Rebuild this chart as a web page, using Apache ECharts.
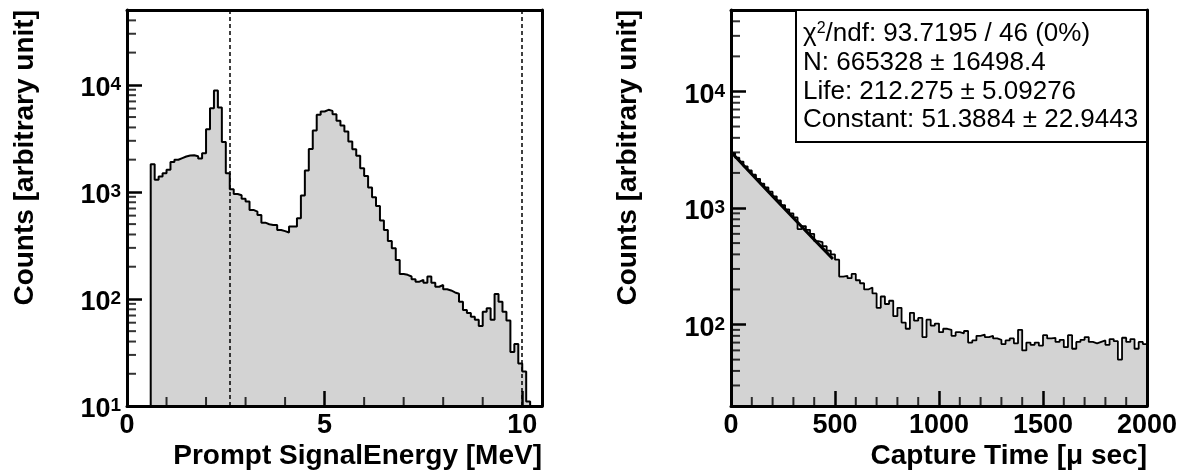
<!DOCTYPE html>
<html>
<head>
<meta charset="utf-8">
<title>Prompt energy / capture time</title>
<script src="https://cdn.jsdelivr.net/npm/echarts@6/dist/echarts.min.js"></script>
<style>
  html, body { margin: 0; padding: 0; background: #fff; }
</style>
</head>
<body>
<div id="main" style="width: 1184px;height:472px;"></div>
<script type="text/javascript">
// prompt energy histogram, 0.1 MeV bins starting at 0.6 MeV
var energyStart = 0.6;
var energyBin = 0.1;
var energyCounts = [
  1816, 1295, 1390, 1495, 1607, 1897, 1995, 2066, 2140, 2190,
  2200, 2150, 2050, 2300, 3850, 6050, 8850, 6150, 2930, 1490,
  1060, 957, 930, 863, 813, 679, 655, 609, 516, 499,
  490, 490, 441, 430, 417, 474, 474, 567, 925, 1580,
  2510, 3740, 5250, 5630, 5840, 5710, 5320, 4630, 4170, 3660,
  2950, 2500, 2170, 1665, 1410, 1097, 892, 739, 540, 441,
  348, 298, 231, 171, 168, 162, 153, 145, 151, 142,
  162, 142, 130, 135, 123, 120, 115, 112, 94, 79,
  74, 68, 64, 56, 76, 82, 64, 111, 94, 76,
  63, 32, 38, 25, 21, 11
];
var cutLines = [2.6, 10.0];

// capture time histogram, 20 us bins from 0 to 2000
var timeBin = 20;
var timeCounts = [
  2950, 2700, 2500, 2280, 2100, 1930, 1780, 1620, 1500, 1380,
  1260, 1160, 1060, 975, 900, 830, 660, 700, 650, 600,
  520, 510, 470, 430, 400, 360, 258, 262, 250, 272,
  240, 226, 200, 208, 185, 139, 174, 150, 160, 118,
  139, 104, 92, 126, 108, 114, 78, 110, 98, 102,
  86, 92, 90, 80, 86, 84, 88, 70, 73, 80,
  82, 78, 80, 76, 74, 68, 73, 76, 69, 90,
  60, 70, 67, 70, 66, 81, 76, 77, 71, 74,
  64, 81, 62, 71, 74, 78, 71, 69, 71, 73,
  67, 75, 72, 50, 77, 71, 75, 62, 71, 68
];
// fitted exponential + constant
var fitT = [0, 100, 200, 300, 400, 490];
var fitV = [3020, 1950, 1265, 820, 535, 365];

var statLines = [
  '{t|\u03c7}{s|2}{t|/ndf: 93.7195 / 46 (0%)}',
  '{t|N: 665328 \u00b1 16498.4}',
  '{t|Life: 212.275 \u00b1 5.09276}',
  '{t|Constant: 51.3884 \u00b1 22.9443}'
];

var FONT = '"Liberation Sans", Arial, Helvetica, sans-serif';

// histogram outlines
var energyData = [[energyStart, 10]];
for (var i = 0; i < energyCounts.length; i++) {
  energyData.push([Math.round((energyStart + i * energyBin) * 100) / 100, energyCounts[i]]);
}
var eEnd = Math.round((energyStart + energyCounts.length * energyBin) * 100) / 100;
energyData.push([eEnd, energyCounts[energyCounts.length - 1]]);
energyData.push([eEnd, 10]);

var timeData = [];
for (var i = 0; i < timeCounts.length; i++) {
  timeData.push([i * timeBin, timeCounts[i]]);
}
timeData.push([timeCounts.length * timeBin, timeCounts[timeCounts.length - 1]]);

var fitData = [];
for (var i = 0; i < fitT.length; i++) fitData.push([fitT[i], fitV[i]]);

// log minor ticks (2..9 x decade) drawn as small marks on the axis
function logMinor(lo, hi) {
  var out = [];
  for (var d = 1; d < 1e6; d *= 10) {
    for (var k = 2; k <= 9; k++) {
      var v = k * d;
      if (v > lo && v < hi) out.push(v);
    }
  }
  return out;
}
function linMinor(step, major, max) {
  var out = [];
  for (var v = step; v < max; v += step) {
    if (Math.abs(v / major - Math.round(v / major)) > 1e-6) out.push(v);
  }
  return out;
}

function yTicks(x0, vals) { return vals.map(function (v) { return [x0, v]; }); }
function xTicks(y0, vals) { return vals.map(function (v) { return [v, y0]; }); }

function tickSeries(xi, yi, data, vertical) {
  return {
    type: 'scatter', xAxisIndex: xi, yAxisIndex: yi, data: data,
    symbol: 'rect', symbolSize: vertical ? [2, 9] : [9, 2],
    symbolOffset: vertical ? [0, -4.5] : [4.5, 0],
    itemStyle: { color: '#000' }, silent: true, clip: false, z: 3
  };
}

function logLabel() {
  return {
    margin: 6,
    padding: [8, 0, 0, 0],
    formatter: function (v) {
      var p = Math.log10(v);
      if (Math.abs(p - Math.round(p)) > 1e-6) return '';
      return '{b|10}{s|' + Math.round(p) + '}';
    },
    rich: {
      b: { fontFamily: FONT, fontWeight: 'bold', fontSize: 27, color: '#000' },
      s: { fontFamily: FONT, fontWeight: 'bold', fontSize: 19, color: '#000', verticalAlign: 'top' }
    }
  };
}

var axisLine = { show: true, onZero: false, lineStyle: { color: '#000', width: 3 } };
var majorTick = { show: true, inside: true, length: 15, lineStyle: { color: '#000', width: 2.5 } };

function frameX(gi) {
  return { type: 'value', gridIndex: gi, position: 'top', min: 0, max: 1, z: 10,
    axisLine: axisLine, axisTick: { show: false }, axisLabel: { show: false }, splitLine: { show: false } };
}
function frameY(gi) {
  return { type: 'value', gridIndex: gi, position: 'right', min: 0, max: 1, z: 10,
    axisLine: axisLine, axisTick: { show: false }, axisLabel: { show: false }, splitLine: { show: false } };
}

var xLabel = { margin: 6, color: '#000', fontFamily: FONT, fontWeight: 'bold', fontSize: 27 };

var myChart = echarts.init(document.getElementById('main'));

var option = {
  animation: false,
  backgroundColor: '#fff',
  grid: [
    { left: 127, top: 10, width: 415, height: 396 },
    { left: 731, top: 10, width: 416, height: 396 }
  ],
  xAxis: [
    { type: 'value', gridIndex: 0, min: 0, max: 10.5, interval: 5, z: 10,
      axisLine: axisLine, axisTick: majorTick, splitLine: { show: false },
      axisLabel: Object.assign({ formatter: function (v) { return v % 5 === 0 ? String(v) : ''; } }, xLabel) },
    { type: 'value', gridIndex: 1, min: 0, max: 2000, interval: 500, z: 10,
      axisLine: axisLine, axisTick: majorTick, splitLine: { show: false },
      axisLabel: Object.assign({ formatter: function (v) { return String(v); } }, xLabel) },
    frameX(0), frameX(1)
  ],
  yAxis: [
    { type: 'log', gridIndex: 0, min: 10, max: 50000, z: 10,
      axisLine: axisLine, axisTick: majorTick, splitLine: { show: false }, axisLabel: logLabel() },
    { type: 'log', gridIndex: 1, min: 20, max: 50000, z: 10,
      axisLine: axisLine, axisTick: majorTick, splitLine: { show: false }, axisLabel: logLabel() },
    frameY(0), frameY(1)
  ],
  series: [
    {
      type: 'line', xAxisIndex: 0, yAxisIndex: 0, data: energyData, step: 'end',
      symbol: 'none', z: 2,
      lineStyle: { color: '#000', width: 2 },
      areaStyle: { color: '#d3d3d3', opacity: 1, origin: 'start' },
      markLine: {
        silent: true, symbol: 'none', label: { show: false },
        lineStyle: { color: '#000', width: 1.5, type: [4, 3] },
        data: cutLines.map(function (c) { return { xAxis: c }; })
      }
    },
    {
      type: 'line', xAxisIndex: 1, yAxisIndex: 1, data: timeData, step: 'end',
      symbol: 'none', z: 2,
      lineStyle: { color: '#000', width: 1.8 },
      areaStyle: { color: '#d3d3d3', opacity: 1, origin: 'start' }
    },
    {
      type: 'line', xAxisIndex: 1, yAxisIndex: 1, data: fitData,
      symbol: 'none', z: 4, lineStyle: { color: '#000', width: 3 }
    },
    tickSeries(0, 0, yTicks(0, logMinor(10, 50000)), false),
    tickSeries(0, 0, xTicks(10, linMinor(1, 5, 10.5)), true),
    tickSeries(1, 1, yTicks(0, logMinor(20, 50000)), false),
    tickSeries(1, 1, xTicks(20, linMinor(100, 500, 2000)), true)
  ],
  graphic: [
    { type: 'text', x: 25, y: 10, rotation: Math.PI / 2,
      style: { text: 'Counts [arbitrary unit]', font: 'bold 28px ' + FONT, fill: '#000',
        align: 'right', textAlign: 'right', verticalAlign: 'middle', textVerticalAlign: 'middle' } },
    { type: 'text', x: 628, y: 10, rotation: Math.PI / 2,
      style: { text: 'Counts [arbitrary unit]', font: 'bold 28px ' + FONT, fill: '#000',
        align: 'right', textAlign: 'right', verticalAlign: 'middle', textVerticalAlign: 'middle' } },
    { type: 'text', x: 542, y: 456,
      style: { text: 'Prompt SignalEnergy [MeV]', font: 'bold 28px ' + FONT, fill: '#000',
        align: 'right', textAlign: 'right', verticalAlign: 'middle', textVerticalAlign: 'middle' } },
    { type: 'text', x: 1147, y: 456,
      style: { text: 'Capture Time [\u03bc sec]', font: 'bold 28px ' + FONT, fill: '#000',
        align: 'right', textAlign: 'right', verticalAlign: 'middle', textVerticalAlign: 'middle' } },
    { type: 'rect', z: 20, shape: { x: 796, y: 10, width: 351, height: 132 },
      style: { fill: '#fff', stroke: '#000', lineWidth: 2 } }
  ].concat(statLines.map(function (s, k) {
    return { type: 'text', z: 21, x: 803, y: 34 + k * 28.7,
      style: { text: s, align: 'left', textAlign: 'left', verticalAlign: 'middle', textVerticalAlign: 'middle',
        rich: {
          t: { fontFamily: FONT, fontSize: 26, fill: '#000', color: '#000' },
          s: { fontFamily: FONT, fontSize: 16, fill: '#000', color: '#000', verticalAlign: 'top' }
        } } };
  }))
};

myChart.setOption(option);
</script>
</body>
</html>
